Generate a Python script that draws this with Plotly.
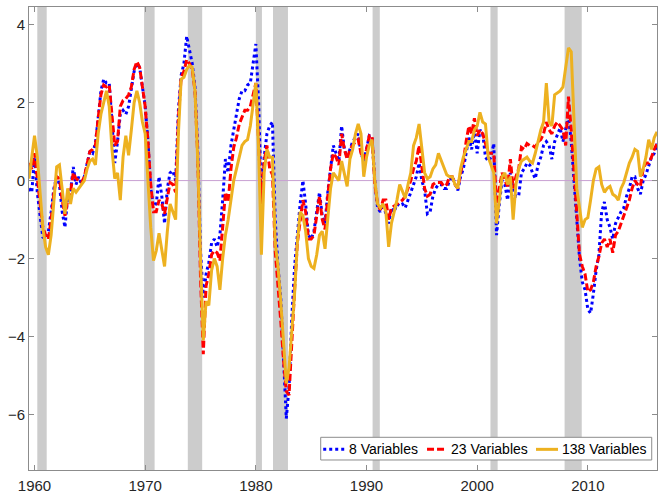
import numpy as np
import plotly.graph_objects as go

# quarterly estimates, 1959Q3 .. 2016Q2
var8 = [
    -0.2, -0.3,
    0.6, -0.3, -0.9, -1.45,   -1.5, -1.3, -0.8, -0.2,   0.1, -0.1, -0.8, -1.2,   -0.4, -0.3, 0.35, -0.1,
    0.1, -0.1, 0.1, 0.4,      0.75, 0.7, 0.95, 1.6,     2.3, 2.6, 2.5, 2.5,      1.5, 0.45, 1.0, 1.7,
    1.8, 1.7, 1.9, 2.3,       2.8, 3.0, 2.9, 2.4,
    1.9, 1.0, -0.2, -0.65,    -0.6, 0.1, -0.4, -1.1,    -0.2, 0.2, 0.25, 0.0,    1.8, 2.7, 3.0, 3.7,
    3.3, 3.0, 2.4, 0.8,       -1.8, -3.0, -2.4, -2.1,   -1.6, -1.5, -1.7, -1.4,  -0.5, 0.55, 0.2, 0.9,
    1.3, 1.7, 2.1, 2.3,       2.3, 2.45, 2.5, 3.0,
    3.5, 2.0, -0.5, 0.6,      1.2, 1.4, 1.5, -1.0,      -2.2, -3.0, -4.5, -6.1,  -5.3, -3.5, -2.2, -1.3,
    -0.6, 0.0, -0.6, -1.4,    -1.5, -1.3, -0.8, -0.3,   -0.9, -1.1, -0.3, 0.3,   0.9, 0.7, 0.5, 1.4,
    0.8, 0.6, 0.8, 1.0,       1.1, 1.2, 0.7, 0.5,
    0.8, 1.15, 1.1, 0.0,      -0.7, -0.8, -0.6, -0.85,  -1.1, -0.7, -0.8, -0.6,  -0.65, -0.6, -0.7, -0.5,
    -0.3, -0.05, 0.1, 0.45,   0.0, -0.25, -0.85, -0.8,  -0.4, -0.2, -0.1, -0.1,  -0.2, -0.2, 0.0, 0.1,
    -0.1, -0.25, 0.1, 0.3,    0.7, 1.1, 0.8, 1.3,
    0.7, 1.3, 1.2, 0.6,       0.5, 0.6, 0.95, -1.4,     -0.6, 0.0, -0.1, -0.5,   0.2, -0.3, -0.4, -0.4,
    0.2, 0.3, 0.45, 0.4,      0.2, 0.05, 0.4, 0.6,      0.9, 1.0, 0.9, 0.55,     1.0, 1.2, 1.35, 1.0,
    1.3, 1.65, 1.0, 0.0,      -1.2, -2.0, -2.6, -2.8,
    -3.3, -3.4, -2.9, -2.3,   -1.9, -0.8, -0.55, -1.0,  -1.2, -1.5, -1.1, -0.95, -0.8, -0.7, -0.4, -0.2,
    0.1, 0.1, -0.2, -0.35,    0.0, 0.15, 0.4, 0.6,      0.7, 0.95,
]

var23 = [
    0.45, 0.3,
    0.7, 0.1, -0.6, -1.2,     -1.4, -1.5, -1.0, -0.3,   0.1, 0.05, -0.5, -0.9,   -0.5, -0.3, 0.2, 0.05,
    0.0, -0.05, 0.1, 0.4,     0.75, 0.8, 0.9, 1.6,      2.2, 2.45, 2.4, 2.45,    1.7, 0.9, 1.0, 1.9,
    2.05, 2.1, 2.2, 2.4,      2.85, 3.05, 2.9, 2.4,
    1.9, 1.0, -0.1, -0.8,     -0.8, -0.5, -0.6, -0.85,  -0.4, -0.05, -0.1, -0.3, 1.6, 2.65, 2.8, 3.1,
    3.0, 2.85, 2.3, 0.6,      -2.5, -4.45, -2.7, -2.4,  -1.9, -1.8, -1.85, -2.05, -1.2, -0.3, -0.55, 0.3,
    0.85, 1.1, 1.45, 1.65,    1.8, 1.8, 1.9, 2.2,
    2.5, 1.0, -0.6, 0.5,      0.9, 0.3, 0.15, -1.8,     -2.6, -3.6, -4.6, -5.4,  -5.5, -4.0, -2.8, -1.6,
    -1.0, -0.5, -0.8, -1.5,   -1.5, -1.4, -0.9, -0.4,   -1.0, -1.25, -0.4, 0.3,  0.7, 0.6, 0.4, 1.2,
    0.8, 0.55, 0.8, 0.9,      1.0, 1.05, 0.7, 0.55,
    0.8, 1.15, 1.15, -0.1,    -0.6, -0.75, -0.5, -0.5,  -1.0, -0.7, -0.65, -0.6, -0.55, -0.5, -0.4, -0.2,
    0.0, 0.3, 0.5, 0.9,       0.3, -0.2, -0.4, -0.35,   -0.1, -0.05, -0.05, -0.05, -0.15, -0.1, 0.1, 0.1,
    -0.1, -0.2, 0.2, 0.5,     1.0, 1.4, 1.2, 1.6,
    1.15, 1.3, 1.2, 0.95,     0.7, 0.7, 0.7, -0.6,      -0.2, 0.2, 0.0, -0.15,   0.55, -0.2, 0.1, 0.3,
    0.85, 0.8, 0.95, 0.9,     0.9, 0.85, 1.0, 1.05,     1.2, 1.5, 1.3, 1.2,      1.4, 1.5, 1.4, 1.3,
    0.9, 2.15, 1.3, 0.2,      -1.0, -1.9, -2.2, -2.4,
    -2.85, -2.8, -2.6, -2.2,  -1.95, -1.6, -1.5, -1.7,  -1.5, -1.85, -1.4, -1.3, -1.1, -0.9, -0.7, -0.5,
    -0.2, 0.0, -0.1, -0.15,   0.3, 0.45, 0.45, 0.6,     0.8, 0.95,
]

var138 = [
    0.05, 0.6,
    1.15, 0.6, -0.3, -1.2,    -1.7, -1.9, -1.4, -0.5,   0.35, 0.4, -0.3, -0.85,  -0.2, -0.6, -0.2, -0.3,
    -0.2, -0.1, 0.0, 0.3,     0.5, 0.55, 0.4, 1.2,      1.7, 2.0, 2.3, 1.9,      0.8, 0.05, 0.2, -0.5,
    0.6, 1.15, 0.65, 1.3,     2.0, 2.3, 2.0, 1.5,
    1.2, 0.0, -1.2, -2.05,    -1.8, -1.35, -1.8, -2.2,  -1.3, -0.6, -0.8, -1.0,  1.2, 2.6, 2.65, 2.85,
    2.95, 2.9, 2.3, 0.5,      -2.0, -4.1, -3.1, -3.2,   -2.3, -2.0, -2.2, -2.8,  -2.0, -1.4, -1.0, -0.5,
    0.0, 0.3, 0.6, 0.9,       1.0, 1.05, 1.4, 2.0,
    2.5, 0.8, -1.9, 0.2,      0.8, 0.6, 0.6, -1.6,      -2.2, -3.1, -4.3, -5.2,  -4.8, -3.8, -2.9, -1.6,
    -0.8, -0.9, -1.3, -2.0,   -2.2, -2.25, -1.9, -1.4,  -1.3, -1.75, -1.0, -0.2, 0.2, 0.1, 0.0, 0.5,
    0.2, -0.15, 0.55, 0.8,    1.2, 1.45, 1.2, 0.1,
    0.6, 0.9, 1.05, 0.0,      -0.6, -0.7, -0.6, -0.8,   -1.7, -1.1, -0.8, -0.5,  -0.1, -0.3, -0.45, -0.1,
    0.2, 0.9, 1.1, 1.45,      0.8, 0.2, 0.05, 0.1,      0.3, 0.4, 0.7, 0.5,      0.3, 0.15, 0.1, 0.1,
    -0.1, -0.2, 0.3, 0.6,     0.8, 1.0, 1.0, 1.3,
    1.4, 1.75, 1.5, 1.45,     0.6, 0.4, 0.2, -1.1,      -0.5, 0.1, 0.2, -0.1,    0.1, -1.0, -0.1, 0.3,
    0.5, 0.55, 0.6, 0.5,      0.45, 0.7, 1.0, 1.3,      1.5, 2.5, 1.5, 1.4,      2.2, 2.25, 2.3, 2.4,
    2.9, 3.4, 3.3, 1.6,       -0.2, -0.7, -1.2, -1.0,
    -0.95, -0.5, 0.0, 0.3,    0.35, -0.1, -0.3, -0.2,   -0.15, -0.35, -0.4, -0.5, -0.2, -0.05, 0.2, 0.45,
    0.6, 0.8, 0.75, 0.1,      0.3, 0.6, 1.05, 0.8,      1.1, 1.25,
]

names = ['8 Variables', '23 Variables', '138 Variables']
colors = ['rgb(0,0,255)', 'rgb(255,0,0)', 'rgb(237,177,32)']
dashes = ['3px,3px', '7px,3px', 'solid']

# NBER recessions (start, end) in fractional years
rec_start = [1960.25, 1969.9, 1973.85, 1980.0, 1981.55, 1990.55, 2001.2, 2007.9]
rec_end   = [1961.1, 1970.85, 1975.15, 1980.55, 1982.9, 1991.2, 2001.85, 2009.45]

t = 1959.5 + 0.25 * np.arange(len(var8))

fig = go.Figure()
for y, name, c, d in zip([var8, var23, var138], names, colors, dashes):
    fig.add_trace(go.Scatter(x=t, y=y, mode='lines', name=name,
                             line=dict(color=c, width=3, dash=d)))

shapes = []
for a, b in zip(rec_start, rec_end):
    shapes.append(dict(type='rect', xref='x', yref='paper', x0=a, x1=b, y0=0, y1=1,
                       fillcolor='rgb(204,204,204)', line=dict(width=0), layer='below'))
shapes.append(dict(type='line', xref='paper', yref='y', x0=0, x1=1, y0=0, y1=0,
                   line=dict(color='rgb(200,160,210)', width=1), layer='below'))

# MATLAB-style compact legend box, bottom right
shapes.append(dict(type='rect', xref='paper', yref='paper', x0=0.4645, x1=0.9916, y0=0.0216, y1=0.0706,
                   fillcolor='white', line=dict(color='rgb(140,140,140)', width=1), layer='above'))
leg_sym = [(0.4685, 0.5064), (0.6338, 0.6656), (0.8073, 0.8424)]
leg_txt = [0.5080, 0.6705, 0.8470]
annotations = []
for (s0, s1), tx, name, c, d in zip(leg_sym, leg_txt, names, colors, dashes):
    shapes.append(dict(type='line', xref='paper', yref='paper', x0=s0, x1=s1, y0=0.0446, y1=0.0446,
                       line=dict(color=c, width=3, dash=d), layer='above'))
    annotations.append(dict(xref='paper', yref='paper', x=tx, y=0.0446, text=name, showarrow=False,
                            xanchor='left', yanchor='middle', borderpad=0,
                            font=dict(size=14, color='black')))

axis_style = dict(showline=True, linecolor='rgb(140,140,140)', linewidth=1, mirror='ticks',
                  ticks='inside', ticklen=5, tickcolor='rgb(140,140,140)', showgrid=False,
                  zeroline=False, automargin=False,
                  tickfont=dict(size=15, color='rgb(38,38,38)'))

fig.update_layout(
    width=660, height=494,
    margin=dict(l=29, r=3, t=7, b=24),
    plot_bgcolor='white', paper_bgcolor='white',
    font=dict(family='Liberation Sans, Arial, sans-serif', color='rgb(38,38,38)'),
    shapes=shapes, annotations=annotations,
    xaxis=dict(range=[1959.5, 2016.25], tickvals=[1960, 1970, 1980, 1990, 2000, 2010],
               ticklabelstandoff=2, **axis_style),
    yaxis=dict(range=[-7.42, 4.45], tickvals=[-6, -4, -2, 0, 2, 4], **axis_style),
    showlegend=False,
)

# page body has a default 8px margin; remove it so the figure fills the window
fig.write_html("out.html", config={'displayModeBar': False},
               post_script="document.body.style.margin='0px';")
